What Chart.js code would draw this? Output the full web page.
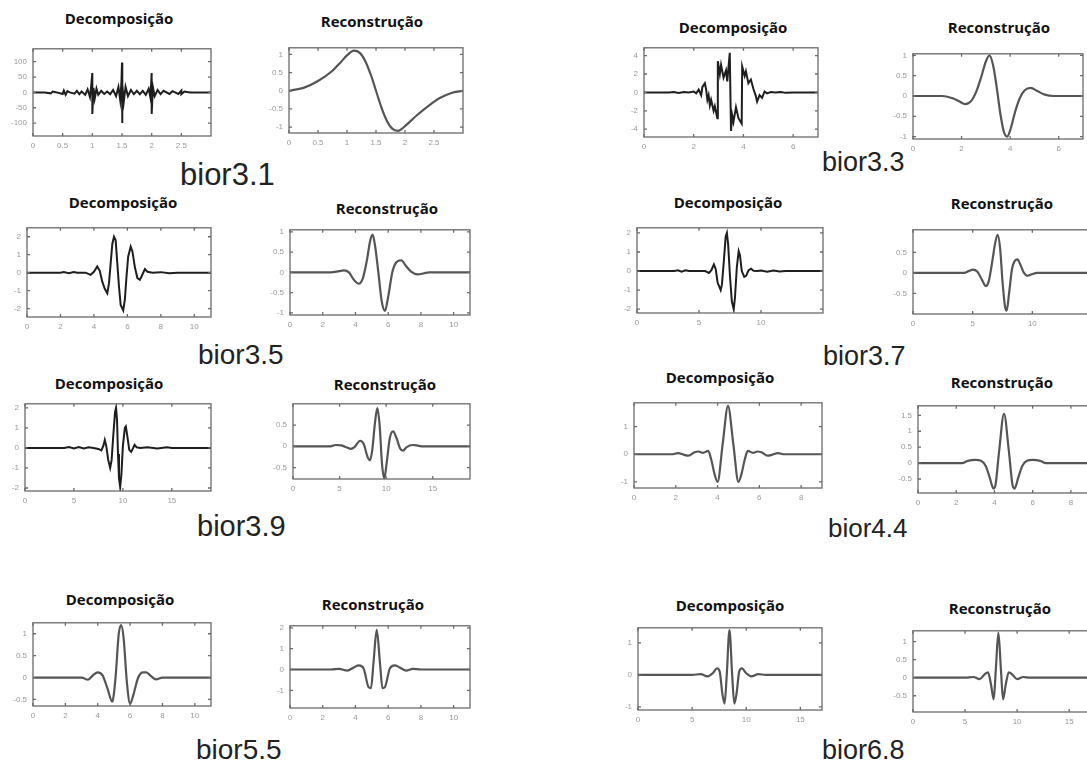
<!DOCTYPE html>
<html>
<head>
<meta charset="utf-8">
<script src="https://cdn.jsdelivr.net/npm/chart.js@4.4.0/dist/chart.umd.min.js"></script>
<style>
  body { margin: 0; width: 1087px; height: 770px; overflow: hidden; background: #fff; position: relative; }
  canvas { position: absolute; }
  .ttl { position: absolute; font: bold 15px "Open Sans", sans-serif; color: #111; transform: translate(-50%, -50%); white-space: nowrap; }
  .nm { position: absolute; font-family: "Liberation Sans", Arial, sans-serif; color: #222; line-height: 1; white-space: nowrap; }
</style>
</head>
<body>
<script>
// ---- data ----
// bior3.1
const d31x = [0, 0.2, 0.3, 0.33, 0.4, 0.5, 0.52, 0.55, 0.58, 0.62, 0.7, 0.74, 0.78, 0.82, 0.88, 0.92, 0.96, 0.98, 1.0, 1.0, 1.02, 1.04, 1.07, 1.1, 1.15, 1.2, 1.25, 1.3, 1.35, 1.4, 1.44, 1.47, 1.49, 1.5, 1.5, 1.51, 1.53, 1.56, 1.6, 1.65, 1.7, 1.75, 1.8, 1.85, 1.9, 1.95, 1.98, 2.0, 2.0, 2.02, 2.05, 2.1, 2.15, 2.2, 2.3, 2.35, 2.45, 2.5, 2.5, 2.55, 2.65, 2.8, 3.0];
const d31y = [0, 0, -3, 3, 0, -5, 6, -8, 4, 0, -4, 5, -6, 3, -8, 10, -15, 20, 63, -70, 15, -20, 12, -8, 5, -5, 3, -6, 8, -12, 18, -25, 30, 97, -100, 25, -30, 18, -12, 8, -6, 5, -6, 5, -8, 12, -18, 63, -70, 18, -12, 8, -6, 5, -5, 4, -5, 6, -6, 3, 0, 0, 0];
const r31x = [0, 0.25, 0.5, 0.75, 0.9, 1.0, 1.12, 1.22, 1.32, 1.41, 1.5, 1.59, 1.68, 1.78, 1.88, 2.0, 2.2, 2.4, 2.6, 2.8, 3.0];
const r31y = [0, 0.08, 0.27, 0.55, 0.8, 0.97, 1.1, 1.04, 0.8, 0.44, 0.0, -0.44, -0.8, -1.04, -1.1, -0.97, -0.68, -0.42, -0.2, -0.06, 0];
// bior3.3
const d33x = [0, 1.0, 1.2, 1.4, 1.6, 1.8, 2.0, 2.1, 2.2, 2.3, 2.35, 2.45, 2.5, 2.55, 2.6, 2.65, 2.7, 2.8, 2.85, 2.95, 2.97, 3.05, 3.1, 3.2, 3.3, 3.35, 3.45, 3.5, 3.55, 3.6, 3.7, 3.8, 3.93, 3.95, 4.05, 4.1, 4.2, 4.3, 4.4, 4.5, 4.55, 4.65, 4.75, 4.85, 4.95, 5.1, 5.3, 5.5, 5.7, 6.0, 7.0];
const d33y = [0, 0, 0.05, -0.05, 0.05, 0, 0.1, -0.1, 0.3, -0.3, 0.6, 1.0, 0.3, -0.8, -0.3, -1.4, -0.8, -2.0, -1.5, -2.8, 3.4, 2.0, 3.0, 1.6, 2.4, 1.2, 4.3, -4.2, -2.5, -3.2, -1.6, -2.8, -3.4, 2.8, 1.8, 2.3, 1.0, 1.4, 0.4, -0.4, -1.0, -0.3, -0.6, 0.1, -0.1, 0.05, 0, 0.05, -0.05, 0, 0];
const r33x = [0, 1.2, 1.6, 1.9, 2.15, 2.4, 2.6, 2.8, 3.0, 3.15, 3.3, 3.45, 3.6, 3.75, 3.88, 4.0, 4.2, 4.4, 4.6, 4.85, 5.1, 5.4, 5.8, 7.0];
const r33y = [0, 0, -0.05, -0.13, -0.2, -0.12, 0.1, 0.45, 0.85, 1.0, 0.75, 0.2, -0.45, -0.9, -1.0, -0.85, -0.4, -0.05, 0.14, 0.2, 0.13, 0.04, 0, 0];
// bior3.5
const d35x = [0, 2.0, 2.2, 2.5, 2.8, 3.0, 3.5, 3.8, 4.0, 4.2, 4.35, 4.5, 4.65, 4.8, 4.9, 5.0, 5.1, 5.2, 5.3, 5.4, 5.5, 5.6, 5.75, 5.85, 5.95, 6.05, 6.2, 6.3, 6.45, 6.6, 6.75, 6.9, 7.05, 7.2, 7.5, 8.0, 8.5, 9.0, 11];
const d35y = [0, 0, 0.03, -0.03, 0.03, 0, 0, -0.12, 0.05, 0.35, 0.1, -0.5, -0.9, -1.15, -0.6, 0.5, 1.6, 2.0, 1.8, 0.5, -0.8, -1.8, -2.1, -1.5, -0.2, 0.9, 1.45, 1.2, 0.3, -0.3, -0.4, -0.1, 0.2, 0.05, 0, 0.03, -0.03, 0, 0];
const r35x = [0, 2.5, 3.0, 3.3, 3.6, 3.9, 4.2, 4.45, 4.7, 4.9, 5.05, 5.2, 5.4, 5.6, 5.8, 6.0, 6.25, 6.5, 6.8, 7.1, 7.4, 7.8, 8.2, 8.5, 11];
const r35y = [0, 0, 0.03, 0.05, 0.0, -0.18, -0.28, -0.15, 0.3, 0.78, 0.93, 0.65, 0.0, -0.7, -0.95, -0.6, 0.0, 0.25, 0.3, 0.15, 0.02, -0.05, -0.02, 0, 0];
// bior3.7
const d37x = [0, 3.0, 3.3, 3.6, 3.9, 4.2, 5.5, 5.8, 6.0, 6.2, 6.35, 6.5, 6.75, 6.85, 7.0, 7.15, 7.25, 7.35, 7.5, 7.65, 7.8, 7.9, 8.05, 8.2, 8.3, 8.45, 8.65, 8.8, 9.0, 9.2, 9.4, 9.7, 10.0, 10.5, 11.0, 11.5, 12.0, 15];
const d37y = [0, 0, 0.04, -0.03, 0.04, 0, 0, -0.1, 0.05, 0.35, 0.1, -0.6, -1.0, -0.7, 0.5, 1.8, 2.0, 1.4, -0.3, -1.6, -2.0, -1.4, 0.2, 1.05, 0.85, 0.0, -0.3, -0.25, 0.05, 0.12, 0.02, 0, 0.03, -0.03, 0.03, -0.02, 0, 0];
const r37x = [0, 4.3, 4.7, 5.0, 5.4, 5.8, 6.1, 6.35, 6.6, 6.9, 7.1, 7.3, 7.5, 7.7, 7.85, 8.05, 8.3, 8.55, 8.75, 9.0, 9.3, 9.6, 9.9, 10.4, 15];
const r37y = [0, 0, 0.05, 0.08, 0.03, -0.18, -0.32, -0.2, 0.2, 0.75, 0.93, 0.6, -0.2, -0.8, -0.92, -0.5, 0.1, 0.3, 0.33, 0.2, 0.0, -0.07, -0.04, 0, 0];
// bior3.9
const d39x = [0, 4.0, 4.5, 5.0, 5.5, 6.0, 6.5, 7.0, 7.5, 7.8, 8.0, 8.15, 8.3, 8.5, 8.7, 8.85, 9.0, 9.2, 9.3, 9.4, 9.5, 9.6, 9.72, 9.85, 10.0, 10.2, 10.3, 10.45, 10.65, 10.85, 11.05, 11.2, 11.4, 11.8, 12.5, 13.5, 14.5, 15.0, 19];
const d39y = [0, 0, 0.04, -0.03, 0.04, -0.03, 0.03, 0, -0.05, -0.12, 0.1, 0.4, 0.1, -0.6, -1.0, -0.6, 0.5, 1.8, 2.0, 1.4, -0.3, -1.5, -1.95, -1.3, 0.1, 1.0, 1.07, 0.6, -0.1, -0.2, 0.0, 0.15, 0.03, 0, 0.03, -0.03, 0.03, 0, 0];
const r39x = [0, 4.0, 4.6, 5.2, 5.8, 6.2, 6.6, 7.2, 7.6, 8.0, 8.25, 8.5, 8.8, 9.05, 9.3, 9.55, 9.8, 10.05, 10.4, 10.75, 11.1, 11.5, 11.8, 12.2, 12.8, 13.3, 13.8, 19];
const r39y = [0, 0, 0.03, 0.02, -0.03, -0.06, -0.02, 0.13, 0.05, -0.25, -0.33, -0.1, 0.55, 0.9, 0.5, -0.4, -0.76, -0.4, 0.2, 0.35, 0.2, -0.05, -0.1, -0.02, 0.03, 0.02, 0, 0];
// bior4.4
const d44x = [0, 1.8, 2.1, 2.4, 2.6, 2.9, 3.1, 3.3, 3.55, 3.7, 3.85, 4.0, 4.25, 4.5, 4.75, 5.0, 5.15, 5.3, 5.45, 5.7, 5.9, 6.1, 6.4, 6.6, 6.9, 7.2, 9];
const d44y = [0, 0, 0.04, -0.02, -0.05, 0.07, 0.1, 0.05, 0.12, -0.2, -0.7, -1.0, 0.4, 1.75, 0.4, -1.0, -0.7, -0.2, 0.12, 0.05, 0.1, 0.07, -0.05, -0.02, 0.04, 0, 0];
const r44x = [0, 2.0, 2.3, 2.6, 3.0, 3.3, 3.55, 3.75, 3.95, 4.05, 4.25, 4.5, 4.75, 4.95, 5.05, 5.25, 5.45, 5.7, 6.0, 6.4, 6.7, 7.0, 9];
const r44y = [0, 0, 0.0, 0.07, 0.1, 0.07, -0.1, -0.45, -0.8, -0.7, 0.4, 1.55, 0.4, -0.7, -0.8, -0.45, -0.1, 0.07, 0.1, 0.07, 0.0, 0, 0];
// bior5.5
const d55x = [0, 3.0, 3.4, 3.7, 4.0, 4.3, 4.6, 4.9, 5.1, 5.3, 5.45, 5.6, 5.8, 6.0, 6.2, 6.5, 6.8, 7.0, 7.3, 7.6, 8.0, 11];
const d55y = [0, 0, -0.05, 0.05, 0.12, 0.05, -0.25, -0.55, 0.0, 1.0, 1.2, 0.9, -0.1, -0.6, -0.4, 0.0, 0.12, 0.12, 0.03, -0.04, 0, 0];
const r55x = [0, 2.5, 3.0, 3.5, 3.9, 4.2, 4.5, 4.8, 4.95, 5.1, 5.3, 5.5, 5.65, 5.8, 6.1, 6.4, 6.7, 7.1, 7.5, 8.0, 11];
const r55y = [0, 0, 0.03, -0.05, 0.1, 0.2, 0.05, -0.85, -0.9, 0.3, 1.9, 0.3, -0.9, -0.85, 0.05, 0.2, 0.1, -0.05, 0.03, 0, 0];
// bior6.8
const d68x = [0, 5.0, 5.8, 6.4, 6.9, 7.3, 7.55, 7.8, 8.0, 8.2, 8.45, 8.7, 8.9, 9.1, 9.35, 9.6, 10.0, 10.5, 11.1, 11.8, 17];
const d68y = [0, 0, 0.02, -0.05, 0.05, 0.2, 0.1, -0.6, -0.9, 0.0, 1.4, 0.0, -0.9, -0.6, 0.1, 0.2, 0.05, -0.05, 0.02, 0, 0];
const r68x = [0, 5.0, 5.8, 6.4, 6.9, 7.2, 7.5, 7.75, 7.95, 8.2, 8.45, 8.65, 8.9, 9.2, 9.5, 10.0, 10.6, 11.2, 17];
const r68y = [0, 0, 0.02, -0.04, 0.1, 0.15, -0.2, -0.6, 0.2, 1.25, 0.2, -0.6, -0.2, 0.15, 0.1, -0.04, 0.02, 0, 0];

// tick labels
const xt3 = [0, 0.5, 1, 1.5, 2, 2.5];
const xt7 = [0, 2, 4, 6];
const xt11 = [0, 2, 4, 6, 8, 10];
const xt15 = [0, 5, 10];
const xt19 = [0, 5, 10, 15];
const xt9 = [0, 2, 4, 6, 8];
const xt17 = [0, 5, 10, 15];

const DEC = "Decomposição";
const REC = "Reconstrução";

// box = [left, top, right, bottom] of the plot frame on the page
const panels = [
  { box: [33, 43, 211, 136], xs: d31x, ys: d31y, xr: [0, 3], yr: [-142, 142], xt: xt3, yt: [-100, -50, 0, 50, 100], jag: true },
  { box: [289, 42, 463, 133], xs: r31x, ys: r31y, xr: [0, 3], yr: [-1.16, 1.18], xt: xt3, yt: [-1, -0.5, 0, 0.5, 1] },
  { box: [644, 42, 818, 137], xs: d33x, ys: d33y, xr: [0, 7], yr: [-4.85, 4.85], xt: xt7, yt: [-4, -2, 0, 2, 4], jag: true },
  { box: [913, 48, 1083, 139], xs: r33x, ys: r33y, xr: [0, 7], yr: [-1.06, 1.04], xt: xt7, yt: [-1, -0.5, 0, 0.5, 1] },
  { box: [27, 222, 211, 317], xs: d35x, ys: d35y, xr: [0, 11], yr: [-2.47, 2.5], xt: xt11, yt: [-2, -1, 0, 1, 2], jag: true },
  { box: [290, 224, 470, 315], xs: r35x, ys: r35y, xr: [0, 11], yr: [-1.05, 1.05], xt: xt11, yt: [-1, -0.5, 0, 0.5, 1] },
  { box: [637, 222, 823, 313], xs: d37x, ys: d37y, xr: [0, 15], yr: [-2.2, 2.27], xt: xt15, yt: [-2, -1, 0, 1, 2], jag: true },
  { box: [913, 224, 1092, 314], xs: r37x, ys: r37y, xr: [0, 15], yr: [-1.0, 1.05], xt: xt15, yt: [-0.5, 0, 0.5] },
  { box: [25, 398, 211, 491], xs: d39x, ys: d39y, xr: [0, 19], yr: [-2.15, 2.2], xt: xt19, yt: [-2, -1, 0, 1, 2], jag: true },
  { box: [293, 398, 470, 479], xs: r39x, ys: r39y, xr: [0, 19], yr: [-0.77, 1.0], xt: xt19, yt: [-0.5, 0, 0.5] },
  { box: [634, 397, 822, 488], xs: d44x, ys: d44y, xr: [0, 9], yr: [-1.22, 1.86], xt: xt9, yt: [-1, 0, 1] },
  { box: [918, 400, 1090, 493], xs: r44x, ys: r44y, xr: [0, 9], yr: [-0.94, 1.8], xt: xt9, yt: [-0.5, 0, 0.5, 1, 1.5] },
  { box: [33, 617, 211, 706], xs: d55x, ys: d55y, xr: [0, 11], yr: [-0.65, 1.25], xt: xt11, yt: [-0.5, 0, 0.5, 1] },
  { box: [290, 620, 470, 708], xs: r55x, ys: r55y, xr: [0, 11], yr: [-1.85, 2.1], xt: xt11, yt: [-1, 0, 1, 2] },
  { box: [638, 622, 822, 710], xs: d68x, ys: d68y, xr: [0, 17], yr: [-1.1, 1.47], xt: xt17, yt: [-1, 0, 1] },
  { box: [913, 625, 1090, 712], xs: r68x, ys: r68y, xr: [0, 17], yr: [-0.95, 1.3], xt: xt17, yt: [-0.5, 0, 0.5, 1] }
];

const titles = [
  [DEC, 119, 18], [REC, 372, 21], [DEC, 733, 27], [REC, 999, 27],
  [DEC, 123, 202], [REC, 387, 208], [DEC, 728, 202], [REC, 1002, 203],
  [DEC, 109, 383], [REC, 385, 384], [DEC, 720, 377], [REC, 1002, 382],
  [DEC, 120, 599], [REC, 373, 604], [DEC, 730, 605], [REC, 1000, 608]
];

// [text, left, baseline, size]
const names = [
  ["bior3.1", 180, 185, 31], ["bior3.3", 822, 172, 27],
  ["bior3.5", 198, 365, 28], ["bior3.7", 823, 366, 27],
  ["bior3.9", 197, 537, 29], ["bior4.4", 828, 537, 26],
  ["bior5.5", 196, 760, 28], ["bior6.8", 822, 760, 27]
];

titles.forEach(function (t) {
  const d = document.createElement("div");
  d.className = "ttl";
  d.textContent = t[0];
  d.style.left = t[1] + "px";
  d.style.top = t[2] + "px";
  document.body.appendChild(d);
});

names.forEach(function (n) {
  const d = document.createElement("div");
  d.className = "nm";
  d.textContent = n[0];
  d.style.fontSize = n[3] + "px";
  d.style.left = n[1] + "px";
  d.style.top = (n[2] - 0.847 * n[3]) + "px";
  document.body.appendChild(d);
});

// frame with inward ticks, matlab style
const frame = {
  id: "frame",
  afterDraw(chart) {
    const ctx = chart.ctx;
    const a = chart.chartArea;
    const sx = chart.scales.x, sy = chart.scales.y;
    ctx.save();
    ctx.strokeStyle = "#6a6a6a";
    ctx.lineWidth = 1.3;
    ctx.strokeRect(a.left, a.top, a.right - a.left, a.bottom - a.top);
    ctx.beginPath();
    sx.ticks.forEach(function (t) {
      const p = sx.getPixelForValue(t.value);
      ctx.moveTo(p, a.bottom); ctx.lineTo(p, a.bottom - 3);
      ctx.moveTo(p, a.top); ctx.lineTo(p, a.top + 3);
    });
    sy.ticks.forEach(function (t) {
      const p = sy.getPixelForValue(t.value);
      ctx.moveTo(a.left, p); ctx.lineTo(a.left + 3, p);
      ctx.moveTo(a.right, p); ctx.lineTo(a.right - 3, p);
    });
    ctx.stroke();
    ctx.restore();
  }
};

const YW = 28, XH = 16, PT = 5, PR = 6;
const tickFont = { family: "Liberation Sans", size: 8 };

panels.forEach(function (p) {
  const [bl, bt, br, bb] = p.box;
  const c = document.createElement("canvas");
  c.width = br - bl + YW + PR;
  c.height = bb - bt + PT + XH;
  c.style.left = (bl - YW) + "px";
  c.style.top = (bt - PT) + "px";
  document.body.appendChild(c);

  const pts = p.xs.map(function (x, i) { return { x: x, y: p.ys[i] }; });

  new Chart(c, {
    type: "line",
    data: {
      datasets: [{
        data: pts,
        borderColor: p.jag ? "#1e1e1e" : "#555555",
        borderWidth: p.jag ? 2 : 2.2,
        pointRadius: 0,
        tension: 0,
        cubicInterpolationMode: p.jag ? "default" : "monotone"
      }]
    },
    options: {
      responsive: false,
      animation: false,
      layout: { padding: { top: PT, right: PR, left: 0, bottom: 0 } },
      plugins: { legend: { display: false }, tooltip: { enabled: false } },
      scales: {
        x: {
          type: "linear",
          min: p.xr[0],
          max: p.xr[1],
          grid: { display: false, drawTicks: false },
          border: { display: false },
          afterFit: function (s) { s.height = XH; },
          afterBuildTicks: function (s) { s.ticks = p.xt.map(function (v) { return { value: v }; }); },
          ticks: { font: tickFont, color: "#999999", padding: 5, maxRotation: 0, autoSkip: false,
                   callback: function (v) { return String(v); } }
        },
        y: {
          type: "linear",
          min: p.yr[0],
          max: p.yr[1],
          grid: { display: false, drawTicks: false },
          border: { display: false },
          afterFit: function (s) { s.width = YW; },
          afterBuildTicks: function (s) { s.ticks = p.yt.map(function (v) { return { value: v }; }); },
          ticks: { font: tickFont, color: "#999999", padding: 6, autoSkip: false,
                   callback: function (v) { return String(v); } }
        }
      }
    },
    plugins: [frame]
  });
});
</script>
</body>
</html>
